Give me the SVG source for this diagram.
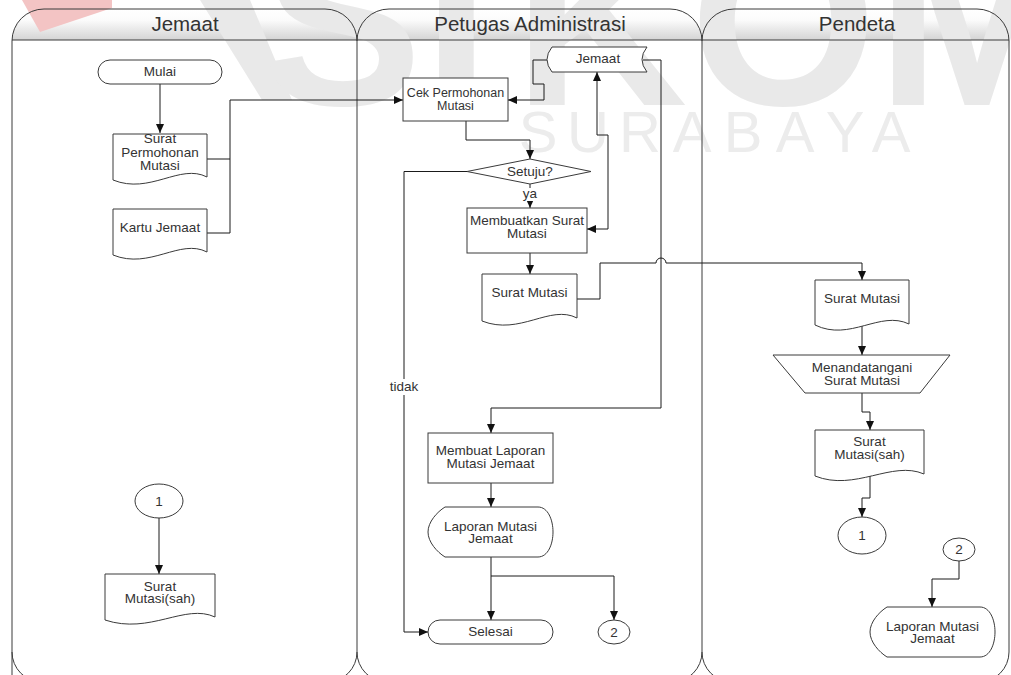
<svg xmlns="http://www.w3.org/2000/svg" width="1011" height="675" viewBox="0 0 1011 675">
  <defs>
    <linearGradient id="hdr" x1="0" y1="0" x2="0" y2="1">
      <stop offset="0" stop-color="#ffffff"/>
      <stop offset="0.35" stop-color="#fbfbfb"/>
      <stop offset="1" stop-color="#d2d2d2"/>
    </linearGradient>
    <marker id="arr" viewBox="0 0 9 8" refX="9" refY="4" markerWidth="9" markerHeight="8" markerUnits="userSpaceOnUse" orient="auto-start-reverse">
      <path d="M0,0 L9,4 L0,8 z" fill="#111"/>
    </marker>
    <style>
      .lane { fill: none; stroke: #3a3a3a; stroke-width: 1; }
      .shape { fill: #ffffff; stroke: #3a3a3a; stroke-width: 1; }
      .conn { fill: none; stroke: #1a1a1a; stroke-width: 1; }
      .arrow { marker-end: url(#arr); }
      .t { font-family: "Liberation Sans", Arial, sans-serif; font-size: 13.5px; fill: #333333; text-anchor: middle; }
      .h { font-family: "Liberation Sans", Arial, sans-serif; font-size: 20.5px; fill: #333333; text-anchor: middle; }
      .wm { font-family: "Liberation Sans", Arial, sans-serif; font-weight: bold; font-size: 240px; fill: #e9e9e9; }
      .wm2 { font-family: "Liberation Sans", Arial, sans-serif; font-size: 58px; fill: #ececec; text-anchor: middle; }
    </style>
  </defs>

  <rect width="1011" height="675" fill="#ffffff"/>

  <!-- lane headers (gradient band) -->
  <g id="lane-headers">
    <path d="M12,40 V41 A32,32 0 0 1 44,9 H325 A32,32 0 0 1 357,41 V40 Z" fill="url(#hdr)"/>
    <path d="M357,40 V41 A32,32 0 0 1 389,9 H670 A32,32 0 0 1 702,41 V40 Z" fill="url(#hdr)"/>
    <path d="M702,40 V41 A32,32 0 0 1 734,9 H977 A32,32 0 0 1 1009,41 V40 Z" fill="url(#hdr)"/>
  </g>

  <!-- background logo watermark -->
  <g id="watermark">
    <polygon points="22,0 112,0 112,8 40,32" fill="#f3c4c4"/>
    <polygon points="200,0 250,0 292,100 262,100" fill="#e9e9e9"/>
    <text class="wm" x="262" y="105">S</text>
    <text class="wm" x="423" y="105">I</text>
    <text class="wm" x="514" y="105">K</text>
    <text class="wm" x="690" y="105">O</text>
    <text class="wm" x="877" y="105">M</text>
    <text class="wm2" x="538 588 640 692 743 795 845 891" y="152">SURABAYA</text>
  </g>

  <!-- swimlanes -->
  <g id="lanes">
    <path class="lane" d="M12,682 V41 A32,32 0 0 1 44,9 H325 A32,32 0 0 1 357,41 V652 A30,30 0 0 1 327,682"/>
    <path class="lane" d="M12,652 A30,30 0 0 0 42,682"/>
    <path class="lane" d="M357,652 A30,30 0 0 0 387,682 M357,41 A32,32 0 0 1 389,9 H670 A32,32 0 0 1 702,41 V652 A30,30 0 0 1 672,682"/>
    <path class="lane" d="M702,652 A30,30 0 0 0 732,682 M702,41 A32,32 0 0 1 734,9 H977 A32,32 0 0 1 1009,41 V652 A30,30 0 0 1 979,682"/>
    <path class="lane" d="M12,40 H1009"/>
    <text class="h" x="185" y="31">Jemaat</text>
    <text class="h" x="530" y="31">Petugas Administrasi</text>
    <text class="h" x="857" y="31">Pendeta</text>
  </g>

  <!-- connectors -->
  <g id="connectors">
    <path class="conn arrow" d="M160,84 V133"/>
    <path class="conn arrow" d="M207,159 H230 V100 H403"/>
    <path class="conn" d="M207,233 H230 V159"/>
    <path class="conn arrow" d="M548,60 H533 V84 H544 V100 H508"/>
    <path class="conn arrow" d="M466,121 V140 H530 V159"/>
    <path class="conn arrow" d="M530,184 V208"/>
    <path class="conn arrow" d="M467,171.5 H404 V632 H428"/>
    <path class="conn arrow" d="M587,229 H608 V135 H597 V72" marker-start="url(#arr)"/>
    <path class="conn arrow" d="M530,253 V274"/>
    <path class="conn arrow" d="M577,299 H600 V263 H656 A5,5 0 0 1 666,263 H862 V280"/>
    <path class="conn arrow" d="M643,60 H661 V408 H491 V433"/>
    <path class="conn arrow" d="M491,483 V507"/>
    <path class="conn arrow" d="M491,557 V620"/>
    <path class="conn arrow" d="M491,576 H614 V620"/>
    <path class="conn arrow" d="M862,326 V355"/>
    <path class="conn arrow" d="M862,393 V412 H870 V430"/>
    <path class="conn arrow" d="M870,476 V498 H862 V517"/>
    <path class="conn arrow" d="M959,561 V579 H932 V607"/>
    <path class="conn arrow" d="M159,518 V574"/>
    <rect x="521" y="188" width="18" height="13" fill="#ffffff"/>
    <text class="t" x="530" y="198">ya</text>
    <rect x="389" y="379" width="31" height="16" fill="#ffffff"/>
    <text class="t" x="404" y="391">tidak</text>
  </g>

  <!-- Jemaat lane -->
  <g id="mulai">
    <rect class="shape" x="98" y="60" width="124" height="24" rx="12" ry="12"/>
    <text class="t" x="160" y="76">Mulai</text>
  </g>
  <g id="surat-permohonan">
    <path class="shape" d="M113,134 H207 V177 C180,163 150,195 113,180 Z"/>
    <text class="t" x="160" y="143">Surat</text>
    <text class="t" x="160" y="156.5">Permohonan</text>
    <text class="t" x="160" y="170">Mutasi</text>
  </g>
  <g id="kartu-jemaat">
    <path class="shape" d="M113,209 H207 V252 C180,238 150,270 113,255 Z"/>
    <text class="t" x="160" y="231.5">Kartu Jemaat</text>
  </g>
  <g id="con-1a">
    <ellipse class="shape" cx="159" cy="501" rx="24" ry="17"/>
    <text class="t" x="159" y="506">1</text>
  </g>
  <g id="surat-sah-jemaat">
    <path class="shape" d="M105,574 H215 V617 C185,603 150,635 105,620 Z"/>
    <text class="t" x="160" y="590.5">Surat</text>
    <text class="t" x="160" y="603">Mutasi(sah)</text>
  </g>

  <!-- Petugas Administrasi lane -->
  <g id="cek-permohonan">
    <rect class="shape" x="403" y="78" width="105" height="43"/>
    <text class="t" x="455.5" y="97" style="font-size:12.5px">Cek Permohonan</text>
    <text class="t" x="455.5" y="110" style="font-size:12.5px">Mutasi</text>
  </g>
  <g id="db-jemaat">
    <path class="shape" d="M552,47 H647 Q637,59.5 647,72 H552 Q542,59.5 552,47 Z"/>
    <text class="t" x="598" y="63">Jemaat</text>
  </g>
  <g id="setuju">
    <polygon class="shape" points="530,159 591,171.5 530,184 467,171.5"/>
    <text class="t" x="530" y="176">Setuju?</text>
  </g>
  <g id="membuatkan-surat">
    <rect class="shape" x="467" y="208" width="120" height="45"/>
    <text class="t" x="527" y="225">Membuatkan Surat</text>
    <text class="t" x="527" y="238">Mutasi</text>
  </g>
  <g id="surat-mutasi-petugas">
    <path class="shape" d="M482,274 H577 V318 C550,304 520,336 482,321 Z"/>
    <text class="t" x="529.5" y="296.5">Surat Mutasi</text>
  </g>
  <g id="membuat-laporan">
    <rect class="shape" x="428" y="433" width="125" height="50"/>
    <text class="t" x="490.5" y="455">Membuat Laporan</text>
    <text class="t" x="490.5" y="468">Mutasi Jemaat</text>
  </g>
  <g id="laporan-petugas">
    <path class="shape" d="M445,507 H538 C548,507 553,520 553,532 C553,544 548,557 538,557 H445 C437,552 428,542 428,532 C428,522 437,512 445,507 Z"/>
    <text class="t" x="490.5" y="531">Laporan Mutasi</text>
    <text class="t" x="490.5" y="543">Jemaat</text>
  </g>
  <g id="selesai">
    <rect class="shape" x="428" y="620" width="125" height="24" rx="12" ry="12"/>
    <text class="t" x="490.5" y="636">Selesai</text>
  </g>
  <g id="con-2a">
    <ellipse class="shape" cx="614" cy="632" rx="16" ry="12"/>
    <text class="t" x="614" y="636.5">2</text>
  </g>

  <!-- Pendeta lane -->
  <g id="surat-mutasi-pendeta">
    <path class="shape" d="M815,280 H909 V324 C880,310 850,342 815,325 Z"/>
    <text class="t" x="862" y="303">Surat Mutasi</text>
  </g>
  <g id="menandatangani">
    <polygon class="shape" points="773,355 950,355 920,393 805,393"/>
    <text class="t" x="862" y="372">Menandatangani</text>
    <text class="t" x="862" y="385">Surat Mutasi</text>
  </g>
  <g id="surat-sah-pendeta">
    <path class="shape" d="M815,430 H924 V474 C892,460 855,492 815,476 Z"/>
    <text class="t" x="869.5" y="446">Surat</text>
    <text class="t" x="869.5" y="458.5">Mutasi(sah)</text>
  </g>
  <g id="con-1b">
    <ellipse class="shape" cx="862" cy="535.5" rx="24" ry="18.5"/>
    <text class="t" x="862" y="540">1</text>
  </g>
  <g id="con-2b">
    <ellipse class="shape" cx="959" cy="549.5" rx="16" ry="11.5"/>
    <text class="t" x="959" y="554">2</text>
  </g>
  <g id="laporan-pendeta">
    <path class="shape" d="M887,607 H980 C990,607 995,620 995,632 C995,644 990,657 980,657 H887 C879,652 870,642 870,632 C870,622 879,612 887,607 Z"/>
    <text class="t" x="932.5" y="631">Laporan Mutasi</text>
    <text class="t" x="932.5" y="643">Jemaat</text>
  </g>
</svg>
